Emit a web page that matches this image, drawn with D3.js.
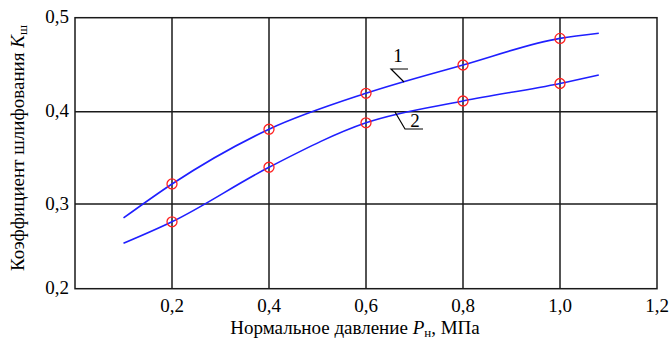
<!DOCTYPE html>
<html>
<head>
<meta charset="utf-8">
<script src="https://d3js.org/d3.v7.min.js"></script>
</head>
<body style="margin:0">
<script>

// data
var pressure = [0.1, 0.2, 0.4, 0.6, 0.8, 1.0, 1.08];
var curve1 = [0.2835, 0.3217, 0.381, 0.4196, 0.4497, 0.478, 0.4834];
var curve2 = [0.2536, 0.279, 0.3398, 0.388, 0.4114, 0.430, 0.439];
var markerPressure = [0.2, 0.4, 0.6, 0.8, 1.0];
var xTicks = [0.2, 0.4, 0.6, 0.8, 1.0, 1.2];
var xTickLabels = ["0,2", "0,4", "0,6", "0,8", "1,0", "1,2"];
var yTicks = [0.2, 0.3, 0.4, 0.5];
var yTickLabels = ["0,2", "0,3", "0,4", "0,5"];
var curveNames = ["1", "2"];

var width = 670, height = 343;
var fontFam = "'Liberation Serif', 'Times New Roman'";

var svg = d3.select("body")
    .append("svg")
    .attr("width", width)
    .attr("height", height)
    .style("font-family", fontFam);

// x scale
var x = d3.scaleLinear()
    .domain([0, 1.2])
    .range([75, 657]);

// y scale (the original grid is not evenly spaced)
var y = d3.scaleLinear()
    .domain([0.2, 0.3, 0.4, 0.5])
    .range([288.7, 204, 111.7, 17.7]);

// grid lines
svg.selectAll("vgrid")
    .data(xTicks.slice(0, -1))
    .enter()
    .append("line")
    .attr("x1", d => x(d)).attr("x2", d => x(d))
    .attr("y1", y(0.2)).attr("y2", y(0.5))
    .attr("stroke", "#1a1a1a")
    .attr("stroke-width", 1.5);

svg.selectAll("hgrid")
    .data(yTicks.slice(1, -1))
    .enter()
    .append("line")
    .attr("x1", x(0)).attr("x2", x(1.2))
    .attr("y1", d => y(d)).attr("y2", d => y(d))
    .attr("stroke", "#1a1a1a")
    .attr("stroke-width", 1.5);

// frame
svg.append("rect")
    .attr("x", x(0))
    .attr("y", y(0.5))
    .attr("width", x(1.2) - x(0))
    .attr("height", y(0.2) - y(0.5))
    .attr("fill", "none")
    .attr("stroke", "#1a1a1a")
    .attr("stroke-width", 1.5);

// tick labels
svg.selectAll("xlab")
    .data(xTicks)
    .enter()
    .append("text")
    .attr("x", d => x(d))
    .attr("y", 312)
    .attr("text-anchor", "middle")
    .style("font-family", fontFam)
    .style("font-size", "19px")
    .text((d, i) => xTickLabels[i]);

svg.selectAll("ylab")
    .data(yTicks)
    .enter()
    .append("text")
    .attr("x", 69)
    .attr("y", d => y(d))
    .attr("dy", "0.3em")
    .attr("text-anchor", "end")
    .style("font-family", fontFam)
    .style("font-size", "19px")
    .text((d, i) => yTickLabels[i]);

// axis titles
var xTitle = svg.append("text")
    .attr("x", 355)
    .attr("y", 334)
    .attr("text-anchor", "middle")
    .style("font-family", fontFam)
    .style("font-size", "19px");
xTitle.append("tspan").text("Нормальное давление  ");
xTitle.append("tspan").style("font-style", "italic").text("P");
xTitle.append("tspan").attr("dy", 3).style("font-size", "13px").text("н");
xTitle.append("tspan").attr("dy", -3).text(", МПа");

var yTitle = svg.append("text")
    .attr("transform", "translate(24,148) rotate(-90)")
    .attr("text-anchor", "middle")
    .style("font-family", fontFam)
    .style("font-size", "19px");
yTitle.append("tspan").text("Коэффициент шлифования  ");
yTitle.append("tspan").style("font-style", "italic").text("K");
yTitle.append("tspan").attr("dy", 3).style("font-size", "13px").text("ш");

// curves
var series = [curve1, curve2];
var line = d3.line()
    .x((d, i) => x(pressure[i]))
    .y(d => y(d))
    .curve(d3.curveMonotoneX);

svg.selectAll("curves")
    .data(series)
    .enter()
    .append("path")
    .attr("d", d => line(d))
    .attr("fill", "none")
    .attr("stroke", "#1f1fff")
    .attr("stroke-width", 1.6);

// markers
series.forEach(function(s) {
    svg.selectAll("markers")
        .data(markerPressure)
        .enter()
        .append("circle")
        .attr("cx", d => x(d))
        .attr("cy", d => y(s[pressure.indexOf(d)]))
        .attr("r", 5)
        .attr("fill", "none")
        .attr("stroke", "#ff2020")
        .attr("stroke-width", 1.3);
});

// curve labels with leaders
svg.append("text")
    .attr("x", 398).attr("y", 62)
    .attr("text-anchor", "middle")
    .style("font-family", fontFam)
    .style("font-size", "19px")
    .text(curveNames[0]);
svg.append("path")
    .attr("d", "M408,69 L391,69 L404,82")
    .attr("fill", "none")
    .attr("stroke", "#000")
    .attr("stroke-width", 1.2);

svg.append("text")
    .attr("x", 415).attr("y", 127)
    .attr("text-anchor", "middle")
    .style("font-family", fontFam)
    .style("font-size", "19px")
    .text(curveNames[1]);
svg.append("path")
    .attr("d", "M395,112 L405,129 L423,129")
    .attr("fill", "none")
    .attr("stroke", "#000")
    .attr("stroke-width", 1.2);

</script>
</body>
</html>
